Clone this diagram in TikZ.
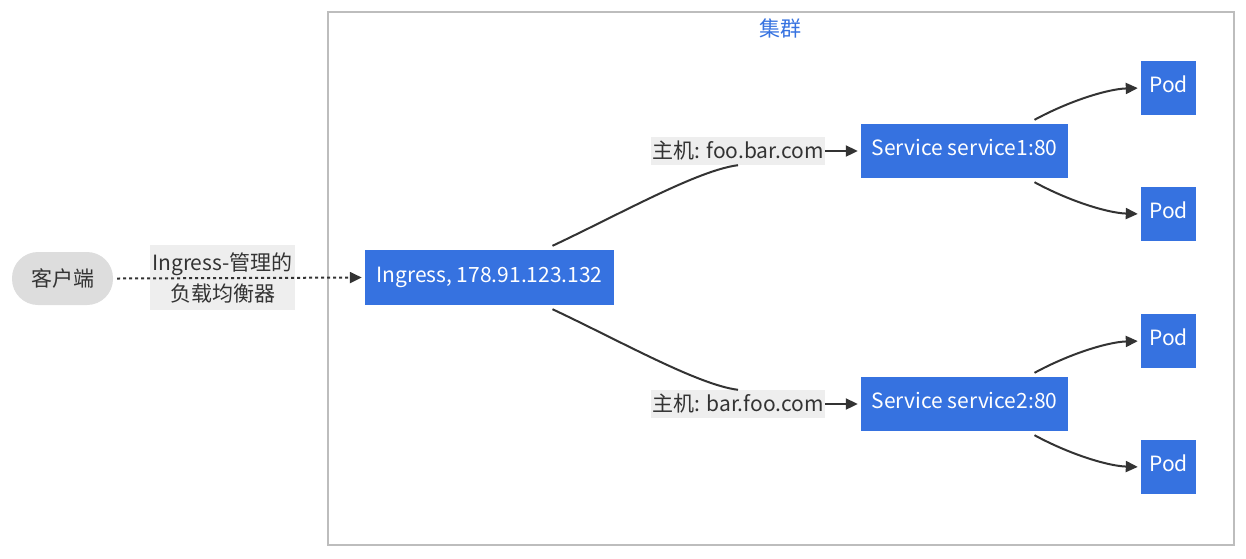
\documentclass[tikz,border=0pt]{standalone}
\usepackage{fontspec}
\setmainfont{Noto Sans CJK SC}
\usetikzlibrary{arrows.meta,positioning,calc}
\definecolor{kblue}{HTML}{3672E0}
\definecolor{inkgray}{HTML}{333333}
\definecolor{edgegray}{HTML}{EEEEEE}
\definecolor{pillgray}{HTML}{DDDDDD}
\definecolor{framegray}{HTML}{BDBDBD}

\begin{document}
\begin{tikzpicture}[x=1pt,y=-1pt,
	every node/.style = {font=\fontsize{21}{31}\selectfont, inner sep=0pt},
	kbox/.style = {fill=kblue, text=white, minimum height=54pt, text height=15pt, text depth=6pt},
	podbox/.style = {kbox, minimum width=55pt},
	svcbox/.style = {kbox, minimum width=207pt},
	hostlbl/.style = {fill=edgegray, text=inkgray, minimum width=174pt, minimum height=28pt},
	wire/.style = {draw=inkgray, line width=2pt, shorten >=3pt, -{Triangle[length=12pt,width=11pt]}}]

	\useasboundingbox (0,0) rectangle (1246,558);

	% cluster frame
	\draw[framegray, line width=2pt] (328,12) rectangle (1234,545);
	\node[text=kblue] (title) at (780,28) {集群};

	\node[fill=pillgray, text=inkgray, rounded corners=26pt, minimum width=101pt, minimum height=53pt] (client) at (62.5,278.5) {客户端};
	\node[fill=edgegray, text=inkgray, align=center, minimum width=145pt, minimum height=65pt] (lb) at (222.5,277.5) {Ingress-管理的\\负载均衡器};
	\node[kbox, minimum width=249pt, minimum height=55pt] (ingress) at (489.5,277.5) {Ingress, 178.91.123.132};

	\node[hostlbl] (host1) at (738,151) {主机: foo.bar.com};
	\node[hostlbl] (host2) at (738,404) {主机: bar.foo.com};

	\node[svcbox] (svc1) at (964.5,151) {Service service1:80};
	\node[svcbox] (svc2) at (964.5,404) {Service service2:80};

	\node[podbox] (pod1) at (1168.5,88) {Pod};
	\node[podbox] (pod2) at (1168.5,214) {Pod};
	\node[podbox] (pod3) at (1168.5,341) {Pod};
	\node[podbox] (pod4) at (1168.5,467) {Pod};

	% client to ingress
	\draw[wire, dash pattern=on 3pt off 3pt] ([xshift=4pt]client.east) -- (ingress.west);

	% ingress to hosts
	\draw[draw=inkgray, line width=2pt] ([shift={(63,-4)}]ingress.north) .. controls +(70,-33) and +(-40,5) .. (host1.south);
	\draw[draw=inkgray, line width=2pt] ([shift={(63,4)}]ingress.south) .. controls +(70,33) and +(-40,-5) .. (host2.north);
	\draw[wire] (host1.east) -- (svc1.west);
	\draw[wire] (host2.east) -- (svc2.west);

	% services to pods
	\draw[wire] ([shift={(70,-4)}]svc1.north) .. controls +(35,-19) and +(-33,1) .. (pod1.west);
	\draw[wire] ([shift={(70,4)}]svc1.south) .. controls +(35,19) and +(-33,-1) .. (pod2.west);
	\draw[wire] ([shift={(70,-4)}]svc2.north) .. controls +(35,-19) and +(-33,1) .. (pod3.west);
	\draw[wire] ([shift={(70,4)}]svc2.south) .. controls +(35,19) and +(-33,-1) .. (pod4.west);

\end{tikzpicture}
\end{document}
